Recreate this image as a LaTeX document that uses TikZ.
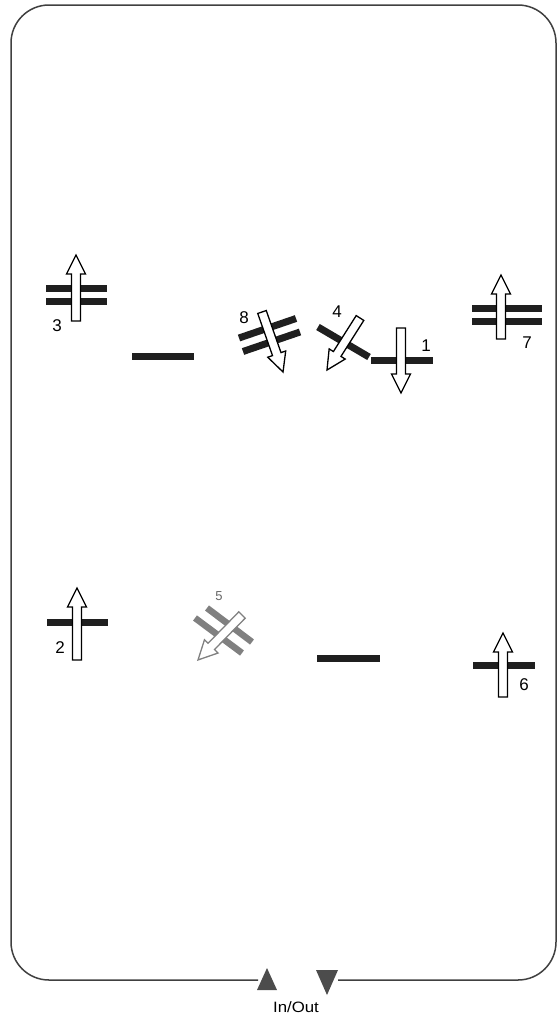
\documentclass[tikz,border=0pt]{standalone}
\usepackage{fontspec}
\setmainfont{Liberation Sans}
\begin{document}
\begin{tikzpicture}[x=1pt,y=-1pt,
  bar/.style={line width=7pt,color=black!88},
  greybar/.style={line width=6.5pt,color=black!50},
  lbl/.style={font=\fontsize{17}{17}\selectfont,inner sep=0pt},
  pics/harrow/.style={code={
    \draw[fill=white,line width=1.3pt,line join=miter]
      (0,-4.5) -- (#1-19,-4.5) -- (#1-19,-9.5) -- (#1,0) -- (#1-19,9.5) -- (#1-19,4.5) -- (0,4.5) -- cycle;}}]
\useasboundingbox (0,0) rectangle (558,1017);
% outer frame
\draw[line width=1.5pt,color=black!75,rounded corners=38]
  (258,980) -- (11,980) -- (11,5) -- (556,5) -- (556,980) -- (338,980);
\fill[black!70] (257,990) -- (277,990) -- (267,968) -- cycle;
\fill[black!70] (316,970) -- (338,970) -- (327,995) -- cycle;
\node[font=\fontsize{15}{15}\selectfont,inner sep=0pt,xscale=1.12] (inout) at (296,1007) {In/Out};
% bars
\draw[bar] (46,288.5) -- (107,288.5);
\draw[bar] (46,301.5) -- (107,301.5);
\draw[bar] (132,356) -- (194,356);
\draw[bar] (239,338) -- (296,318.5);
\draw[bar] (243,351.5) -- (300,332);
\draw[bar] (318,327) -- (369,357);
\draw[bar] (371,360) -- (433,360);
\draw[bar] (472,308) -- (542,308);
\draw[bar] (472,321.5) -- (542,321.5);
\draw[bar] (47,622) -- (108,622);
\draw[greybar] (207,608) -- (252,642);
\draw[greybar] (195,618) -- (242,653);
\draw[bar] (317,658) -- (380,658);
\draw[bar] (473,665) -- (535,665);
% hollow arrows
\pic[rotate=90] at (76,321) {harrow=66};
\pic[rotate=90] at (501,339) {harrow=64};
\pic[rotate=90] at (77,660) {harrow=72};
\pic[rotate=90] at (503,697) {harrow=64};
\pic[rotate=-90] at (401,328) {harrow=65};
\pic[rotate=-70.7] at (262,312) {harrow=63.6};
\pic[rotate=-122.4] at (360,318) {harrow=61.6};
\pic[black!50,rotate=-134.4] at (242,615) {harrow=62.9};
% labels
\node[lbl] (l3) at (57,326) {3};
\node[lbl] (l8) at (244,318) {8};
\node[lbl] (l4) at (337,312) {4};
\node[lbl] (l1) at (426,346) {1};
\node[lbl] (l7) at (527,343) {7};
\node[lbl] (l2) at (60,648) {2};
\node[lbl,font=\fontsize{13}{13}\selectfont,text=black!60] (l5) at (219,596) {5};
\node[lbl] (l6) at (524,685) {6};
\end{tikzpicture}
\end{document}
